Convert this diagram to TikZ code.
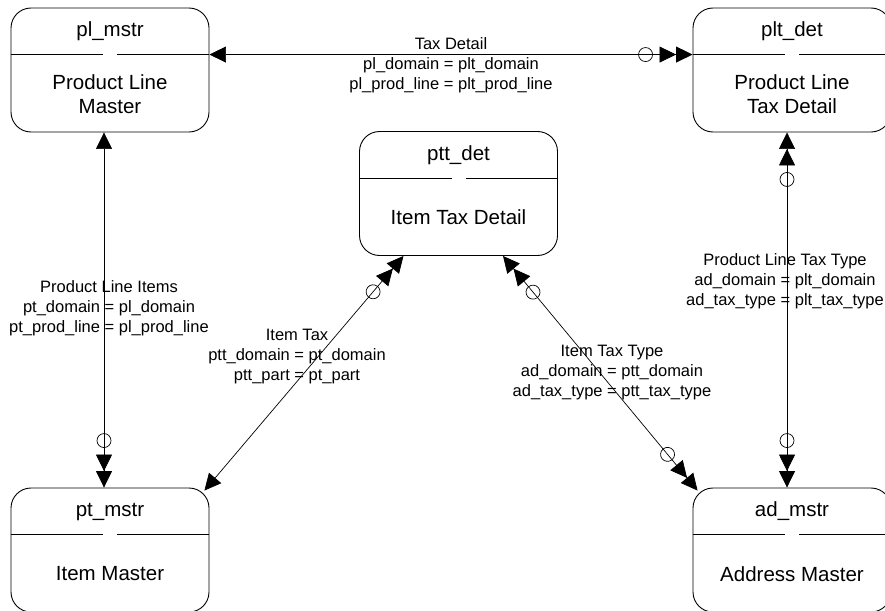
\documentclass[tikz,border=0pt]{standalone}
\usepackage{fontspec}
\setmainfont{Liberation Sans}
\usetikzlibrary{arrows.meta, decorations.markings}

\tikzset{
    erd/.tip={Triangle[length=16.5pt, width=16pt]},
    erdd/.tip={Triangle[length=16.5pt, width=16pt] Triangle[length=16.5pt, width=16pt]}
}

\begin{document}
\begin{tikzpicture}[
        x=1pt, y=-1pt,
        every node/.style={font=\fontsize{20.5}{23.5}\selectfont},
        entity/.style={rectangle, draw, rounded corners=20pt, line width=0.9pt, minimum width=198pt, minimum height=124pt, inner sep=0pt},
        txt/.style={align=center, inner sep=0pt},
        rel/.style={align=center, inner sep=0pt, font=\fontsize{16.5}{20}\selectfont},
        link/.style={line width=0.7pt},
        zstart/.style={postaction={decorate, decoration={markings, mark=at position 47pt with {\draw[-, line width=0.7pt] (0,0) circle (7pt);}}}},
        zend/.style={postaction={decorate, decoration={markings, mark=at position -47pt with {\draw[-, line width=0.7pt] (0,0) circle (7pt);}}}}
    ]
        \useasboundingbox (0,0) rectangle (885,610);
        % tables
        \node[entity] (plmstr) at (110,70)      {};
        \node[entity] (pltdet) at (792,70)      {};
        \node[entity] (pttdet) at (458.5,193.5) {};
        \node[entity] (ptmstr) at (110,550)     {};
        \node[entity] (admstr) at (792,550)     {};
        \foreach \e in {plmstr, pltdet, pttdet, ptmstr, admstr} {
            \draw[line width=0.9pt] ([yshift=-47pt]\e.north west) -- ([shift={(-7pt,-47pt)}]\e.north);
            \draw[line width=0.9pt] ([shift={(7pt,-47pt)}]\e.north) -- ([yshift=-47pt]\e.north east);
        }
        \node[txt] (plmstr-t) at ([yshift=-24pt]plmstr.north)   {pl\_mstr};
        \node[txt] (plmstr-b) at ([yshift=38.5pt]plmstr.south)  {Product Line\\Master};
        \node[txt] (pltdet-t) at ([yshift=-24pt]pltdet.north)   {plt\_det};
        \node[txt] (pltdet-b) at ([yshift=38.5pt]pltdet.south)  {Product Line\\Tax Detail};
        \node[txt] (pttdet-t) at ([yshift=-24pt]pttdet.north)   {ptt\_det};
        \node[txt] (pttdet-b) at ([yshift=38.5pt]pttdet.south)  {Item Tax Detail};
        \node[txt] (ptmstr-t) at ([yshift=-24pt]ptmstr.north)   {pt\_mstr};
        \node[txt] (ptmstr-b) at ([yshift=38.5pt]ptmstr.south)  {Item Master};
        \node[txt] (admstr-t) at ([yshift=-24pt]admstr.north)   {ad\_mstr};
        \node[txt] (admstr-b) at ([yshift=38.5pt]admstr.south)  {Address Master};
        % relations
        \draw[link, {erd}-{erdd}, zend] ([yshift=-47pt]plmstr.north east) -- ([yshift=-47pt]pltdet.north west);
        \draw[link, {erd}-{erdd}, zend] ([xshift=-6pt]plmstr.south) -- ([xshift=-6pt]ptmstr.north);
        \draw[link, {erdd}-{erd}, zstart] ([xshift=-55pt]pttdet.south) -- ([shift={(-5pt,-3pt)}]ptmstr.north east);
        \draw[link, {erdd}-{erdd}, zstart, zend] ([xshift=44.5pt]pttdet.south) -- ([shift={(5pt,-3pt)}]admstr.north west);
        \draw[link, {erdd}-{erdd}, zstart, zend] ([xshift=-5pt]pltdet.south) -- ([xshift=-5pt]admstr.north);
        \node[rel] (taxdet)    at (451,65)  {Tax Detail\\pl\_domain = plt\_domain\\pl\_prod\_line = plt\_prod\_line};
        \node[rel] (plitems)   at (109,308) {Product Line Items\\pt\_domain = pl\_domain\\pt\_prod\_line = pl\_prod\_line};
        \node[rel] (itemtax)   at (297,357) {Item Tax\\ptt\_domain = pt\_domain\\ptt\_part = pt\_part};
        \node[rel] (itaxtype)  at (612,373) {Item Tax Type\\ad\_domain = ptt\_domain\\ad\_tax\_type = ptt\_tax\_type};
        \node[rel] (pltaxtype) at (785,281) {Product Line Tax Type\\ad\_domain = plt\_domain\\ad\_tax\_type = plt\_tax\_type};
\end{tikzpicture}
\end{document}
